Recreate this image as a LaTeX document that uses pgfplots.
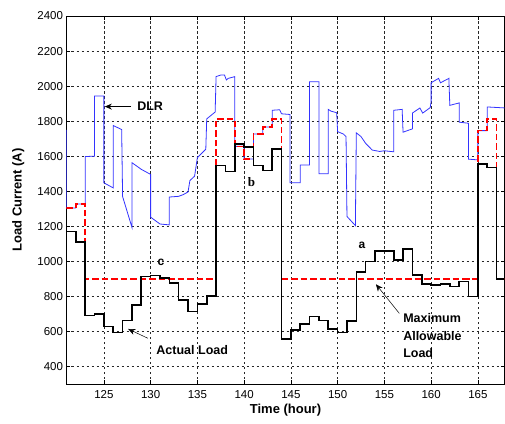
\documentclass[border=0pt]{standalone}
\usepackage{fontspec}
\setmainfont{Liberation Sans}
\newfontfamily\seriffont{Liberation Serif}
\usepackage{pgfplots}
\pgfplotsset{compat=1.18}
\usetikzlibrary{arrows.meta}
\begin{document}
\begin{tikzpicture}
\useasboundingbox (-66.5pt,-39pt) rectangle (438.5pt,384pt);
\begin{axis}[
  scale only axis,
  width=438pt, height=368pt,
  xmin=121, xmax=167.85, ymin=300, ymax=2400,
  xtick={125,130,...,165},
  ytick={400,600,...,2400},
  grid=major,
  major grid style={black!85, dash pattern=on 2.5pt off 2.5pt, line width=0.5pt},
  tick align=inside,
  major tick length=4pt,
  axis line style={black, line width=0.6pt},
  tick style={black, line width=0.5pt},
  /pgf/number format/assume math mode=true,
  /pgf/number format/1000 sep={},
  ticklabel style={font=\fontsize{11.5}{13}\selectfont},
  xticklabel style={yshift=-3pt},
  xlabel={\bfseries Time (hour)},
  ylabel={\bfseries Load Current (A)},
  label style={font=\fontsize{13}{15}\selectfont},
  xlabel style={at={(axis description cs:0.5,-0.0707)}, anchor=center},
  ylabel style={at={(axis description cs:-0.110,0.5)}, anchor=center, rotate=0},
  clip=true,
]
% DLR
\addplot[blue!80!white, line width=0.8pt] coordinates {
(121,1750) (121,1304) (122,1304) (122,1327) (123,1327) (123,1598) (124,1600)
(124,1944) (125,1944) (125,1448) (126,1419) (126,1775) (126.9,1752) (127,1370)
(128,1194) (128,1563) (129,1525) (130,1496) (130,1252) (131,1213) (132,1208)
(132,1367) (133,1371) (133.5,1381) (134,1396) (134.2,1461) (134.7,1486) (135,1592)
(135.9,1640) (136,1813) (136.9,1852) (137,2054) (137.5,2063) (137.9,2063) (138.1,2035)
(138.3,2044) (139,2054) (139,1656) (140,1656) (140,1584) (141,1584) (141,1727)
(142,1727) (142,1766) (143,1766) (143,1862) (143.8,1865) (144,1842) (144.9,1838)
(144.9,1448) (146,1448) (146,1550) (147,1550) (147,2025) (148,2025) (148,1500)
(149,1500) (149,1867) (149.3,1857) (149.9,1848) (150,1740) (150.6,1727) (150.9,1712)
(151,1256) (151.9,1204) (152,1733) (152.5,1712) (153,1673) (153.7,1635) (154.5,1627)
(155,1631) (156,1625) (156,1862) (156.9,1867) (157,1737) (158,1756) (158,1846)
(158.8,1875) (159.1,1846) (159.9,1877) (160,1910) (160,2019) (160.8,2044) (161,2019)
(161.9,2044) (162,1890) (163,1904) (163,1794) (164,1788) (164,1583) (165,1579)
(165,1746) (166,1746) (166,1881) (168,1875)
};
% Maximum allowable load
\addplot[red, line width=1.6pt, dash pattern=on 6.5pt off 3pt, const plot] coordinates {
(121,1304) (122,1327) (123,900) (124,900) (125,900) (126,900) (127,900) (128,900)
(129,900) (130,900) (131,900) (132,900) (133,900) (134,900) (135,900) (136,900)
(137,1812) (138,1812) (139,1656) (140,1584) (141,1727) (142,1766) (143,1812)
(144,900) (145,900) (146,900) (147,900) (148,900) (149,900) (150,900) (151,900)
(152,900) (153,900) (154,900) (155,900) (156,900) (157,900) (158,900) (159,900)
(160,900) (161,900) (162,900) (163,900) (164,900) (165,1746) (166,1812) (167,900) (168,900)
};
% Actual load
\addplot[black, line width=1.6pt, const plot] coordinates {
(121,1170) (122,1110) (123,690) (124,698) (125,627) (126,595) (127,662) (128,751)
(129,913) (130,919) (131,906) (132,875) (133,780) (134,713) (135,755) (136,803)
(137,1547) (138,1513) (139,1671) (140,1652) (141,1547) (142,1519) (143,1641)
(144,557) (145,609) (146,643) (147,685) (148,662) (149,614) (150,593) (151,660)
(152,938) (153,999) (154,1060) (155,1060) (156,1009) (157,1070) (158,923) (159,871)
(160,864) (161,870) (162,856) (163,885) (164,799) (165,1557) (166,1536) (167,900) (168,900)
};
% annotations
\node[font=\fontsize{12.5}{14}\selectfont\bfseries] at (axis cs:129.95,1883) {DLR};
\draw[line width=0.8pt, -{Stealth[length=7pt,width=6pt]}] (axis cs:127.9,1883) -- (axis cs:125.1,1883);
\node[font=\fontsize{12.5}{14}\selectfont\bfseries, anchor=west, inner sep=0pt] at (axis cs:130.6,494) {Actual Load};
\draw[line width=0.5pt, -{Stealth[length=7pt,width=6pt]}] (axis cs:129.7,561) -- (axis cs:127.6,614);
\node[font=\fontsize{12.5}{17.5}\selectfont\bfseries, anchor=west, align=left, inner sep=0pt] at (axis cs:157.0,576) {Maximum\\Allowable\\Load};
\draw[line width=0.5pt, -{Stealth[length=7pt,width=6pt]}] (axis cs:156.6,703) -- (axis cs:154.1,869);
\node[font=\fontsize{12}{14}\selectfont\bfseries] at (axis cs:152.6,1094) {a};
\node[font=\fontsize{13}{14}\selectfont\seriffont\bfseries] at (axis cs:140.8,1455) {b};
\node[font=\fontsize{12}{14}\selectfont\bfseries] at (axis cs:131.1,995) {c};
\end{axis}
\end{tikzpicture}
\end{document}
